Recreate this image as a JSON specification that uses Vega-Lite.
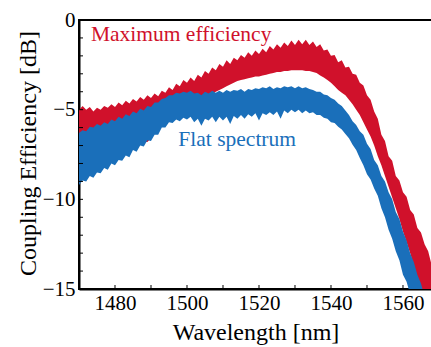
{
  "$schema": "https://vega.github.io/schema/vega-lite/v6.json",
  "width": 353,
  "height": 269,
  "autosize": "none",
  "padding": {"left": 79, "top": 20, "right": 0, "bottom": 58},
  "background": "white",
  "config": {
    "view": {"stroke": "black", "strokeWidth": 2},
    "font": "Liberation Serif",
    "axis": {
      "domainColor": "black",
      "domainWidth": 2,
      "ticks": false,
      "grid": false,
      "labelFont": "Liberation Serif",
      "labelFontSize": 21,
      "labelColor": "black",
      "labelOverlap": false,
      "labelFlush": false,
      "titleFont": "Liberation Serif",
      "titleFontSize": 24,
      "titleFontWeight": "normal",
      "titleColor": "black"
    }
  },
  "datasets": {
    "bands": [
      {"series": "max", "wl": 1470, "lo": -6.8, "hi": -5.0},
      {"series": "max", "wl": 1471, "lo": -6.9, "hi": -4.8},
      {"series": "max", "wl": 1472, "lo": -6.7, "hi": -5.0},
      {"series": "max", "wl": 1473, "lo": -6.9, "hi": -4.85},
      {"series": "max", "wl": 1474, "lo": -6.9, "hi": -5.1},
      {"series": "max", "wl": 1475, "lo": -6.6, "hi": -4.9},
      {"series": "max", "wl": 1476, "lo": -6.6, "hi": -5.0},
      {"series": "max", "wl": 1477, "lo": -6.8, "hi": -4.8},
      {"series": "max", "wl": 1478, "lo": -6.7, "hi": -4.9},
      {"series": "max", "wl": 1479, "lo": -6.5, "hi": -4.7},
      {"series": "max", "wl": 1480, "lo": -6.5, "hi": -4.85},
      {"series": "max", "wl": 1481, "lo": -6.8, "hi": -4.6},
      {"series": "max", "wl": 1482, "lo": -6.8, "hi": -4.75},
      {"series": "max", "wl": 1483, "lo": -7.0, "hi": -4.5},
      {"series": "max", "wl": 1484, "lo": -6.9, "hi": -4.65},
      {"series": "max", "wl": 1485, "lo": -7.1, "hi": -4.4},
      {"series": "max", "wl": 1486, "lo": -7.0, "hi": -4.55},
      {"series": "max", "wl": 1487, "lo": -6.9, "hi": -4.3},
      {"series": "max", "wl": 1488, "lo": -6.8, "hi": -4.45},
      {"series": "max", "wl": 1489, "lo": -6.8, "hi": -4.2},
      {"series": "max", "wl": 1490, "lo": -6.6, "hi": -4.35},
      {"series": "max", "wl": 1491, "lo": -6.3, "hi": -4.1},
      {"series": "max", "wl": 1492, "lo": -6.0, "hi": -4.25},
      {"series": "max", "wl": 1493, "lo": -5.8, "hi": -3.95},
      {"series": "max", "wl": 1494, "lo": -5.5, "hi": -4.05},
      {"series": "max", "wl": 1495, "lo": -5.3, "hi": -3.75},
      {"series": "max", "wl": 1496, "lo": -5.0, "hi": -3.9},
      {"series": "max", "wl": 1497, "lo": -4.9, "hi": -3.55},
      {"series": "max", "wl": 1498, "lo": -4.8, "hi": -3.7},
      {"series": "max", "wl": 1499, "lo": -4.8, "hi": -3.35},
      {"series": "max", "wl": 1500, "lo": -4.7, "hi": -3.5},
      {"series": "max", "wl": 1501, "lo": -4.6, "hi": -3.2},
      {"series": "max", "wl": 1502, "lo": -4.5, "hi": -3.4},
      {"series": "max", "wl": 1503, "lo": -4.5, "hi": -3.05},
      {"series": "max", "wl": 1504, "lo": -4.4, "hi": -3.2},
      {"series": "max", "wl": 1505, "lo": -4.3, "hi": -2.85},
      {"series": "max", "wl": 1506, "lo": -4.2, "hi": -3.0},
      {"series": "max", "wl": 1507, "lo": -4.1, "hi": -2.65},
      {"series": "max", "wl": 1508, "lo": -4.0, "hi": -2.8},
      {"series": "max", "wl": 1509, "lo": -3.9, "hi": -2.45},
      {"series": "max", "wl": 1510, "lo": -3.8, "hi": -2.6},
      {"series": "max", "wl": 1511, "lo": -3.7, "hi": -2.25},
      {"series": "max", "wl": 1512, "lo": -3.6, "hi": -2.45},
      {"series": "max", "wl": 1513, "lo": -3.5, "hi": -2.1},
      {"series": "max", "wl": 1514, "lo": -3.4, "hi": -2.25},
      {"series": "max", "wl": 1515, "lo": -3.35, "hi": -1.95},
      {"series": "max", "wl": 1516, "lo": -3.3, "hi": -2.1},
      {"series": "max", "wl": 1517, "lo": -3.25, "hi": -1.8},
      {"series": "max", "wl": 1518, "lo": -3.2, "hi": -2.0},
      {"series": "max", "wl": 1519, "lo": -3.15, "hi": -1.7},
      {"series": "max", "wl": 1520, "lo": -3.15, "hi": -1.9},
      {"series": "max", "wl": 1521, "lo": -3.1, "hi": -1.6},
      {"series": "max", "wl": 1522, "lo": -3.05, "hi": -1.8},
      {"series": "max", "wl": 1523, "lo": -3.0, "hi": -1.45},
      {"series": "max", "wl": 1524, "lo": -2.95, "hi": -1.65},
      {"series": "max", "wl": 1525, "lo": -2.9, "hi": -1.35},
      {"series": "max", "wl": 1526, "lo": -2.9, "hi": -1.55},
      {"series": "max", "wl": 1527, "lo": -2.85, "hi": -1.25},
      {"series": "max", "wl": 1528, "lo": -2.85, "hi": -1.45},
      {"series": "max", "wl": 1529, "lo": -2.8, "hi": -1.15},
      {"series": "max", "wl": 1530, "lo": -2.8, "hi": -1.4},
      {"series": "max", "wl": 1531, "lo": -2.8, "hi": -1.1},
      {"series": "max", "wl": 1532, "lo": -2.8, "hi": -1.35},
      {"series": "max", "wl": 1533, "lo": -2.85, "hi": -1.1},
      {"series": "max", "wl": 1534, "lo": -2.85, "hi": -1.4},
      {"series": "max", "wl": 1535, "lo": -2.9, "hi": -1.2},
      {"series": "max", "wl": 1536, "lo": -2.95, "hi": -1.5},
      {"series": "max", "wl": 1537, "lo": -3.1, "hi": -1.35},
      {"series": "max", "wl": 1538, "lo": -3.2, "hi": -1.7},
      {"series": "max", "wl": 1539, "lo": -3.35, "hi": -1.65},
      {"series": "max", "wl": 1540, "lo": -3.5, "hi": -2.0},
      {"series": "max", "wl": 1541, "lo": -3.7, "hi": -1.95},
      {"series": "max", "wl": 1542, "lo": -3.9, "hi": -2.35},
      {"series": "max", "wl": 1543, "lo": -4.05, "hi": -2.25},
      {"series": "max", "wl": 1544, "lo": -4.2, "hi": -2.65},
      {"series": "max", "wl": 1545, "lo": -4.45, "hi": -2.6},
      {"series": "max", "wl": 1546, "lo": -4.7, "hi": -3.0},
      {"series": "max", "wl": 1547, "lo": -5.0, "hi": -3.05},
      {"series": "max", "wl": 1548, "lo": -5.3, "hi": -3.5},
      {"series": "max", "wl": 1549, "lo": -5.7, "hi": -3.65},
      {"series": "max", "wl": 1550, "lo": -6.1, "hi": -4.2},
      {"series": "max", "wl": 1551, "lo": -6.5, "hi": -4.45},
      {"series": "max", "wl": 1552, "lo": -7.0, "hi": -5.1},
      {"series": "max", "wl": 1553, "lo": -7.6, "hi": -5.5},
      {"series": "max", "wl": 1554, "lo": -8.1, "hi": -6.4},
      {"series": "max", "wl": 1555, "lo": -8.7, "hi": -6.75},
      {"series": "max", "wl": 1556, "lo": -9.3, "hi": -7.6},
      {"series": "max", "wl": 1557, "lo": -9.9, "hi": -7.85},
      {"series": "max", "wl": 1558, "lo": -10.5, "hi": -8.7},
      {"series": "max", "wl": 1559, "lo": -11.1, "hi": -8.95},
      {"series": "max", "wl": 1560, "lo": -11.8, "hi": -9.6},
      {"series": "max", "wl": 1561, "lo": -12.4, "hi": -9.85},
      {"series": "max", "wl": 1562, "lo": -13.0, "hi": -10.6},
      {"series": "max", "wl": 1563, "lo": -13.7, "hi": -10.85},
      {"series": "max", "wl": 1564, "lo": -14.4, "hi": -11.6},
      {"series": "max", "wl": 1565, "lo": -15.0, "hi": -11.85},
      {"series": "max", "wl": 1566, "lo": -15.5, "hi": -12.5},
      {"series": "max", "wl": 1567, "lo": -16.0, "hi": -12.9},
      {"series": "max", "wl": 1568, "lo": -16.5, "hi": -13.7},
      {"series": "max", "wl": 1570, "lo": -17.5, "hi": -14.8},
      {"series": "flat", "wl": 1470, "lo": -9.2, "hi": -6.3},
      {"series": "flat", "wl": 1471, "lo": -8.95, "hi": -6.15},
      {"series": "flat", "wl": 1472, "lo": -9.0, "hi": -6.2},
      {"series": "flat", "wl": 1473, "lo": -8.7, "hi": -5.95},
      {"series": "flat", "wl": 1474, "lo": -8.8, "hi": -6.0},
      {"series": "flat", "wl": 1475, "lo": -8.5, "hi": -5.8},
      {"series": "flat", "wl": 1476, "lo": -8.55, "hi": -5.9},
      {"series": "flat", "wl": 1477, "lo": -8.25, "hi": -5.7},
      {"series": "flat", "wl": 1478, "lo": -8.35, "hi": -5.8},
      {"series": "flat", "wl": 1479, "lo": -8.0, "hi": -5.55},
      {"series": "flat", "wl": 1480, "lo": -8.1, "hi": -5.65},
      {"series": "flat", "wl": 1481, "lo": -7.8, "hi": -5.4},
      {"series": "flat", "wl": 1482, "lo": -7.85, "hi": -5.5},
      {"series": "flat", "wl": 1483, "lo": -7.55, "hi": -5.25},
      {"series": "flat", "wl": 1484, "lo": -7.65, "hi": -5.35},
      {"series": "flat", "wl": 1485, "lo": -7.25, "hi": -5.1},
      {"series": "flat", "wl": 1486, "lo": -7.35, "hi": -5.2},
      {"series": "flat", "wl": 1487, "lo": -7.0, "hi": -4.95},
      {"series": "flat", "wl": 1488, "lo": -7.05, "hi": -5.05},
      {"series": "flat", "wl": 1489, "lo": -6.7, "hi": -4.8},
      {"series": "flat", "wl": 1490, "lo": -6.75, "hi": -4.85},
      {"series": "flat", "wl": 1491, "lo": -6.4, "hi": -4.6},
      {"series": "flat", "wl": 1492, "lo": -6.4, "hi": -4.6},
      {"series": "flat", "wl": 1493, "lo": -6.0, "hi": -4.4},
      {"series": "flat", "wl": 1494, "lo": -6.0, "hi": -4.35},
      {"series": "flat", "wl": 1495, "lo": -5.7, "hi": -4.2},
      {"series": "flat", "wl": 1496, "lo": -5.75, "hi": -4.2},
      {"series": "flat", "wl": 1497, "lo": -5.55, "hi": -4.05},
      {"series": "flat", "wl": 1498, "lo": -5.65, "hi": -4.1},
      {"series": "flat", "wl": 1499, "lo": -5.45, "hi": -4.0},
      {"series": "flat", "wl": 1500, "lo": -5.55, "hi": -4.05},
      {"series": "flat", "wl": 1501, "lo": -5.4, "hi": -3.95},
      {"series": "flat", "wl": 1502, "lo": -5.7, "hi": -4.1},
      {"series": "flat", "wl": 1503, "lo": -5.5, "hi": -4.05},
      {"series": "flat", "wl": 1504, "lo": -5.9, "hi": -4.2},
      {"series": "flat", "wl": 1505, "lo": -5.5, "hi": -4.0},
      {"series": "flat", "wl": 1506, "lo": -5.6, "hi": -4.1},
      {"series": "flat", "wl": 1507, "lo": -5.4, "hi": -3.95},
      {"series": "flat", "wl": 1508, "lo": -5.7, "hi": -4.05},
      {"series": "flat", "wl": 1509, "lo": -5.4, "hi": -3.95},
      {"series": "flat", "wl": 1510, "lo": -5.6, "hi": -4.05},
      {"series": "flat", "wl": 1511, "lo": -5.4, "hi": -3.9},
      {"series": "flat", "wl": 1512, "lo": -5.8, "hi": -4.0},
      {"series": "flat", "wl": 1513, "lo": -5.35, "hi": -3.9},
      {"series": "flat", "wl": 1514, "lo": -5.5, "hi": -3.95},
      {"series": "flat", "wl": 1515, "lo": -5.3, "hi": -3.85},
      {"series": "flat", "wl": 1516, "lo": -5.5, "hi": -4.0},
      {"series": "flat", "wl": 1517, "lo": -5.25, "hi": -3.85},
      {"series": "flat", "wl": 1518, "lo": -5.4, "hi": -3.9},
      {"series": "flat", "wl": 1519, "lo": -5.2, "hi": -3.8},
      {"series": "flat", "wl": 1520, "lo": -5.6, "hi": -3.85},
      {"series": "flat", "wl": 1521, "lo": -5.2, "hi": -3.75},
      {"series": "flat", "wl": 1522, "lo": -5.3, "hi": -3.8},
      {"series": "flat", "wl": 1523, "lo": -5.15, "hi": -3.7},
      {"series": "flat", "wl": 1524, "lo": -5.3, "hi": -3.85},
      {"series": "flat", "wl": 1525, "lo": -5.1, "hi": -3.75},
      {"series": "flat", "wl": 1526, "lo": -5.5, "hi": -3.8},
      {"series": "flat", "wl": 1527, "lo": -5.05, "hi": -3.7},
      {"series": "flat", "wl": 1528, "lo": -5.2, "hi": -3.75},
      {"series": "flat", "wl": 1529, "lo": -5.0, "hi": -3.7},
      {"series": "flat", "wl": 1530, "lo": -5.15, "hi": -3.8},
      {"series": "flat", "wl": 1531, "lo": -5.0, "hi": -3.7},
      {"series": "flat", "wl": 1532, "lo": -5.2, "hi": -3.8},
      {"series": "flat", "wl": 1533, "lo": -5.05, "hi": -3.75},
      {"series": "flat", "wl": 1534, "lo": -5.2, "hi": -3.85},
      {"series": "flat", "wl": 1535, "lo": -5.15, "hi": -3.9},
      {"series": "flat", "wl": 1536, "lo": -5.3, "hi": -4.0},
      {"series": "flat", "wl": 1537, "lo": -5.3, "hi": -4.0},
      {"series": "flat", "wl": 1538, "lo": -5.45, "hi": -4.15},
      {"series": "flat", "wl": 1539, "lo": -5.5, "hi": -4.2},
      {"series": "flat", "wl": 1540, "lo": -5.7, "hi": -4.35},
      {"series": "flat", "wl": 1541, "lo": -5.75, "hi": -4.45},
      {"series": "flat", "wl": 1542, "lo": -5.95, "hi": -4.65},
      {"series": "flat", "wl": 1543, "lo": -6.1, "hi": -4.8},
      {"series": "flat", "wl": 1544, "lo": -6.35, "hi": -5.05},
      {"series": "flat", "wl": 1545, "lo": -6.6, "hi": -5.3},
      {"series": "flat", "wl": 1546, "lo": -6.95, "hi": -5.65},
      {"series": "flat", "wl": 1547, "lo": -7.25, "hi": -5.85},
      {"series": "flat", "wl": 1548, "lo": -7.7, "hi": -6.2},
      {"series": "flat", "wl": 1549, "lo": -8.1, "hi": -6.4},
      {"series": "flat", "wl": 1550, "lo": -8.6, "hi": -6.9},
      {"series": "flat", "wl": 1551, "lo": -8.9, "hi": -7.2},
      {"series": "flat", "wl": 1552, "lo": -9.4, "hi": -7.8},
      {"series": "flat", "wl": 1553, "lo": -9.8, "hi": -8.1},
      {"series": "flat", "wl": 1554, "lo": -10.5, "hi": -8.7},
      {"series": "flat", "wl": 1555, "lo": -11.0, "hi": -9.0},
      {"series": "flat", "wl": 1556, "lo": -11.7, "hi": -9.6},
      {"series": "flat", "wl": 1557, "lo": -12.2, "hi": -10.0},
      {"series": "flat", "wl": 1558, "lo": -12.9, "hi": -10.7},
      {"series": "flat", "wl": 1559, "lo": -13.4, "hi": -11.1},
      {"series": "flat", "wl": 1560, "lo": -14.2, "hi": -11.8},
      {"series": "flat", "wl": 1561, "lo": -14.6, "hi": -12.3},
      {"series": "flat", "wl": 1562, "lo": -15.3, "hi": -13.0},
      {"series": "flat", "wl": 1563, "lo": -15.8, "hi": -13.5},
      {"series": "flat", "wl": 1564, "lo": -16.4, "hi": -14.2},
      {"series": "flat", "wl": 1565, "lo": -17.0, "hi": -14.7},
      {"series": "flat", "wl": 1566, "lo": -17.5, "hi": -15.4}
    ],
    "labels": [
      {"series": "max", "text": "Maximum efficiency", "wl": 1473.3, "db": -0.85},
      {"series": "flat", "text": "Flat spectrum", "wl": 1497.6, "db": -6.7}
    ],
    "xticks": [
      {"v": 1480, "at": -15}, {"v": 1490, "at": -15}, {"v": 1500, "at": -15},
      {"v": 1510, "at": -15}, {"v": 1520, "at": -15}, {"v": 1530, "at": -15},
      {"v": 1540, "at": -15}, {"v": 1550, "at": -15}, {"v": 1560, "at": -15}
    ],
    "yticks": [
      {"v": -14, "at": 1470}, {"v": -13, "at": 1470}, {"v": -12, "at": 1470},
      {"v": -11, "at": 1470}, {"v": -10, "at": 1470}, {"v": -9, "at": 1470},
      {"v": -8, "at": 1470}, {"v": -7, "at": 1470}, {"v": -6, "at": 1470},
      {"v": -5, "at": 1470}, {"v": -4, "at": 1470}, {"v": -3, "at": 1470},
      {"v": -2, "at": 1470}, {"v": -1, "at": 1470}
    ]
  },
  "layer": [
    {
      "data": {"name": "bands"},
      "transform": [{"filter": "datum.series === 'max'"}],
      "mark": {"type": "area", "clip": true, "color": "#d0112b", "opacity": 1},
      "encoding": {
        "x": {
          "field": "wl",
          "type": "quantitative",
          "title": "Wavelength [nm]",
          "scale": {"domain": [1470, 1568.06], "nice": false, "zero": false},
          "axis": {
            "orient": "bottom",
            "values": [1480, 1500, 1520, 1540, 1560],
            "format": "d",
            "labelPadding": 3,
            "titleBaseline": "alphabetic",
            "titleY": 50.5
          }
        },
        "y": {
          "field": "hi",
          "type": "quantitative",
          "scale": {"domain": [-15, 0], "nice": false, "zero": false},
          "axis": {
            "orient": "left",
            "values": [-15, -10, -5, 0],
            "labelPadding": 4,
            "title": "Coupling Efficiency [dB]",
            "titleAngle": -90,
            "titleBaseline": "alphabetic",
            "titleAlign": "center",
            "titleX": -44,
            "titleY": 133
          }
        },
        "y2": {"field": "lo"}
      }
    },
    {
      "data": {"name": "bands"},
      "transform": [{"filter": "datum.series === 'flat'"}],
      "mark": {"type": "area", "clip": true, "color": "#1a6fba", "opacity": 1},
      "encoding": {
        "x": {"field": "wl", "type": "quantitative"},
        "y": {"field": "hi", "type": "quantitative"},
        "y2": {"field": "lo"}
      }
    },
    {
      "data": {"name": "xticks"},
      "mark": {"type": "point", "shape": "M-0.125,0L0.125,0L0.125,-1L-0.125,-1Z", "filled": true, "color": "black", "opacity": 1, "size": 64, "strokeWidth": 0},
      "encoding": {
        "x": {"field": "v", "type": "quantitative"},
        "y": {"field": "at", "type": "quantitative"}
      }
    },
    {
      "data": {"name": "yticks"},
      "mark": {"type": "point", "shape": "M0,-0.125L1,-0.125L1,0.125L0,0.125Z", "filled": true, "color": "black", "opacity": 1, "size": 64, "strokeWidth": 0},
      "encoding": {
        "y": {"field": "v", "type": "quantitative"},
        "x": {"field": "at", "type": "quantitative"}
      }
    },
    {
      "data": {"name": "labels"},
      "mark": {"type": "text", "align": "left", "baseline": "middle", "font": "Liberation Serif", "fontSize": 21.5},
      "encoding": {
        "x": {"field": "wl", "type": "quantitative"},
        "y": {"field": "db", "type": "quantitative"},
        "text": {"field": "text"},
        "color": {
          "field": "series",
          "type": "nominal",
          "scale": {"domain": ["max", "flat"], "range": ["#d0112b", "#1a6fba"]},
          "legend": null
        }
      }
    }
  ]
}
